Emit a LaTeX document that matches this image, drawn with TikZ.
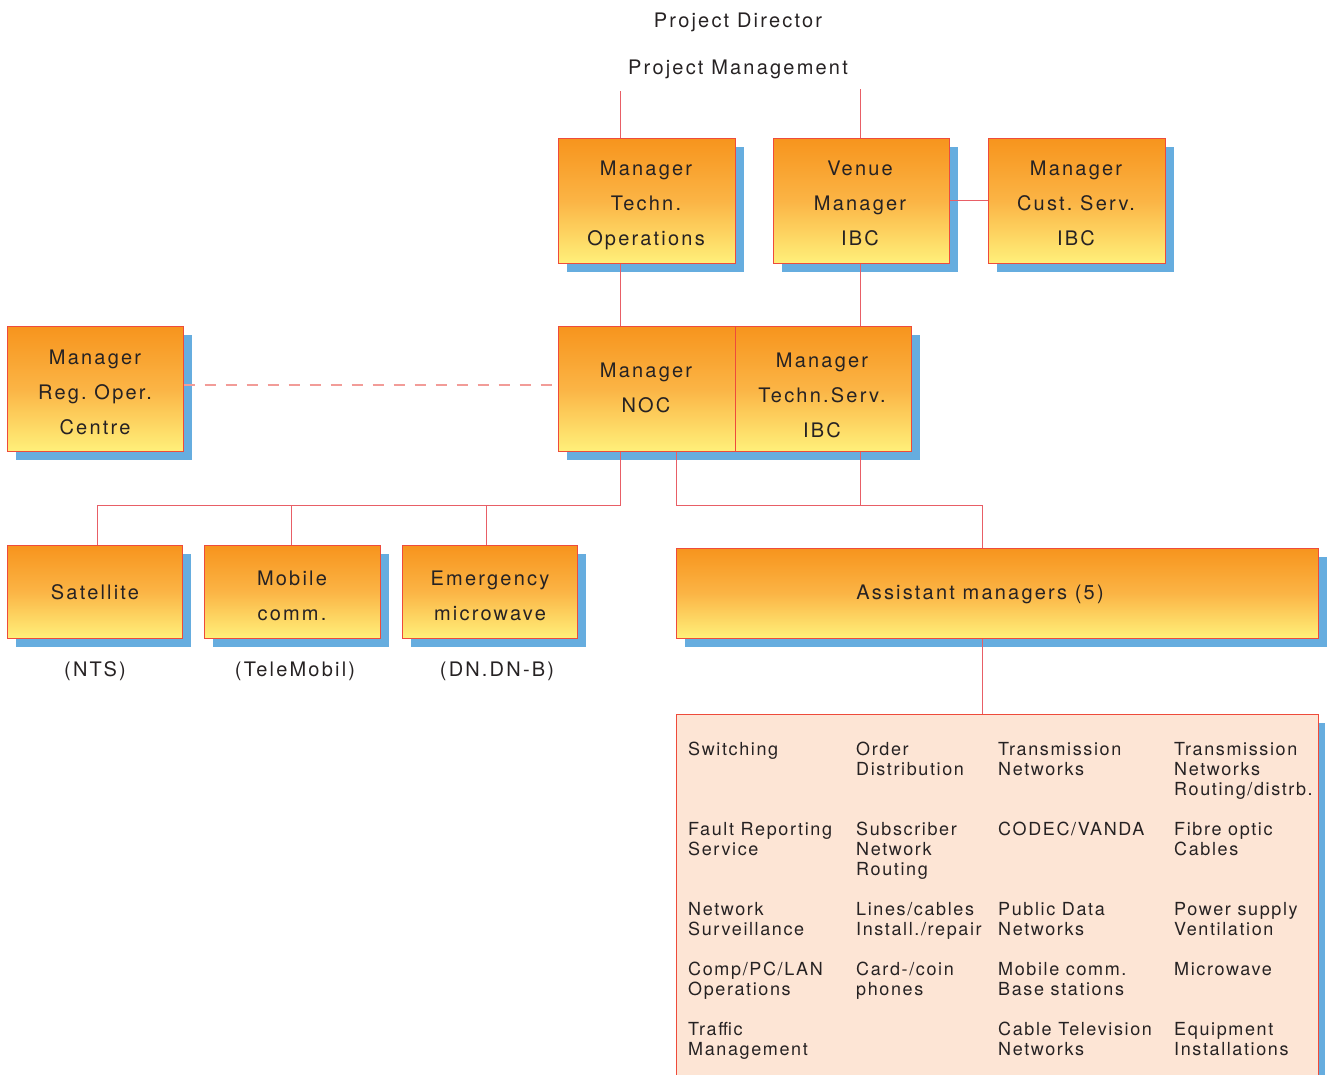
\documentclass[tikz,border=0pt]{standalone}
\usepackage{fontspec}
\setmainfont{TeX Gyre Heros}
\newfontfamily\boxfont{TeX Gyre Heros}[LetterSpace=11]
\newfontfamily\listfont{TeX Gyre Heros}[LetterSpace=9]
\usetikzlibrary{shadows}
\definecolor{orgtop}{HTML}{F7941D}
\definecolor{orgmid}{HTML}{FBB445}
\definecolor{orgbot}{HTML}{FFF07A}
\definecolor{edgered}{HTML}{EE4B3B}
\definecolor{linkred}{HTML}{E85E66}
\definecolor{dashpink}{HTML}{F29C98}
\definecolor{shadowblue}{HTML}{66ADDF}
\definecolor{listfill}{HTML}{FDE5D5}
\definecolor{ink}{HTML}{262223}
\tikzset{
  orgbox/.style={draw=edgered, line width=1pt, top color=orgtop, bottom color=orgbot,
    middle color=orgmid, inner sep=0pt,
    drop shadow={shadow xshift=9pt, shadow yshift=-9pt, fill=shadowblue, opacity=1}},
  boxtext/.style={anchor=north, inner sep=0pt, align=center, text=ink,
    font=\boxfont\fontsize{20}{35}\selectfont},
  listbox/.style={draw=edgered, line width=1pt, fill=listfill, inner sep=0pt,
    drop shadow={shadow xshift=6pt, shadow yshift=-8pt, fill=shadowblue, opacity=1}},
  listtext/.style={anchor=north west, inner sep=0pt, align=left, text=ink,
    font=\listfont\fontsize{18}{20}\selectfont},
  plaintext/.style={anchor=base, inner sep=0pt, text=ink,
    font=\boxfont\fontsize{20}{24}\selectfont},
  link/.style={draw=linkred, line width=0.9pt},
  dashlink/.style={draw=dashpink, line width=1.2pt, dash pattern=on 11pt off 10pt},
}
\begin{document}
\begin{tikzpicture}[x=1pt,y=-1pt]
  \useasboundingbox (0,0) rectangle (1329,1074);
  \clip (0,0) rectangle (1329,1074);

  % headings
  \node[plaintext] (director) at (738,27) {Project Director};
  \node[plaintext] (management) at (738,74) {Project Management};

  % upper row
  \node[orgbox, minimum width=177pt, minimum height=125pt] (techops) at (646.5,200.5) {};
  \node[boxtext] (techops-text) at (646,160.8) {Manager\\Techn.\\Operations};
  \node[orgbox, minimum width=176pt, minimum height=125pt] (venue) at (861,200.5) {};
  \node[boxtext] (venue-text) at (860,160.8) {Venue\\Manager\\IBC};
  \node[orgbox, minimum width=177pt, minimum height=125pt] (custserv) at (1076.5,200.5) {};
  \node[boxtext] (custserv-text) at (1076,160.8) {Manager\\Cust.\ Serv.\\IBC};

  % middle row
  \node[orgbox, minimum width=176pt, minimum height=125pt] (regop) at (95,388.5) {};
  \node[boxtext] (regop-text) at (95,349.8) {Manager\\Reg.\ Oper.\\Centre};
  \node[orgbox, minimum width=353pt, minimum height=125pt] (centre) at (734.5,388.5) {};
  \node[boxtext] (noc) at (646,362.8) {Manager\\NOC};
  \node[boxtext] (techserv) at (822,352.8) {Manager\\Techn.Serv.\\IBC};
  \coordinate (split) at (735,326);
  \draw[draw=edgered, line width=1pt] (split) -- (split |- centre.south);

  % lower row
  \node[orgbox, minimum width=175pt, minimum height=93pt] (sat) at (94.5,591.5) {};
  \node[boxtext] (sat-text) at (95,584.8) {Satellite};
  \node[orgbox, minimum width=176pt, minimum height=93pt] (mobile) at (292,591.5) {};
  \node[boxtext] (mobile-text) at (292,570.8) {Mobile\\comm.};
  \node[orgbox, minimum width=175pt, minimum height=93pt] (emerg) at (489.5,591.5) {};
  \node[boxtext] (emerg-text) at (490,570.8) {Emergency\\microwave};
  \node[orgbox, minimum width=642pt, minimum height=90pt] (asst) at (997,593) {};
  \node[boxtext] (asst-text) at (980,584.8) {Assistant managers (5)};

  \node[plaintext] (nts) at (95,676) {(NTS)};
  \node[plaintext] (telemobil) at (295,676) {(TeleMobil)};
  \node[plaintext] (dndnb) at (497,676) {(DN.DN-B)};

  % task list
  \node[listbox, anchor=north west, minimum width=642pt, minimum height=380pt] (tasks) at (676,714) {};
  \node[listtext] (t11) at (688,742) {Switching};
  \node[listtext] (t12) at (856,742) {Order\\Distribution};
  \node[listtext] (t13) at (998,742) {Transmission\\Networks};
  \node[listtext] (t14) at (1174,742) {Transmission\\Networks\\Routing/distrb.};
  \node[listtext] (t21) at (688,822) {Fault Reporting\\Service};
  \node[listtext] (t22) at (856,822) {Subscriber\\Network\\Routing};
  \node[listtext] (t23) at (998,822) {CODEC/VANDA};
  \node[listtext] (t24) at (1174,822) {Fibre optic\\Cables};
  \node[listtext] (t31) at (688,902) {Network\\Surveillance};
  \node[listtext] (t32) at (856,902) {Lines/cables\\Install./repair};
  \node[listtext] (t33) at (998,902) {Public Data\\Networks};
  \node[listtext] (t34) at (1174,902) {Power supply\\Ventilation};
  \node[listtext] (t41) at (688,962) {Comp/PC/LAN\\Operations};
  \node[listtext] (t42) at (856,962) {Card-/coin\\phones};
  \node[listtext] (t43) at (998,962) {Mobile comm.\\Base stations};
  \node[listtext] (t44) at (1174,962) {Microwave};
  \node[listtext] (t51) at (688,1022) {Traffic\\Management};
  \node[listtext] (t53) at (998,1022) {Cable Television\\Networks};
  \node[listtext] (t54) at (1174,1022) {Equipment\\Installations};

  % connectors
  \coordinate (topL) at (620,91);
  \coordinate (topR) at (860,89);
  \coordinate (busL) at (620,505);
  \coordinate (busM) at (676,505);
  \coordinate (busR) at (982,505);
  \coordinate (dropSat) at (97,505);
  \coordinate (dropMob) at (291,505);
  \coordinate (dropEme) at (486,505);
  \coordinate (dashy) at (0,385);

  \draw[link] (topL) -- (techops.north -| topL);
  \draw[link] (topR) -- (venue.north -| topR);
  \draw[link] (venue.east) -- (custserv.west);
  \draw[link] (techops.south -| topL) -- (centre.north -| topL);
  \draw[link] (venue.south -| topR) -- (centre.north -| topR);
  \draw[dashlink] (regop.east |- dashy) -- (centre.west |- dashy);

  \draw[link] (centre.south -| busL) -- (busL) -- (dropSat) -- (sat.north -| dropSat);
  \draw[link] (dropMob) -- (mobile.north -| dropMob);
  \draw[link] (dropEme) -- (emerg.north -| dropEme);
  \draw[link] (centre.south -| busM) -- (busM) -- (busR) -- (asst.north -| busR);
  \draw[link] (centre.south -| topR) -- (busR -| topR);
  \draw[link] (asst.south -| busR) -- (tasks.north -| busR);
\end{tikzpicture}
\end{document}
